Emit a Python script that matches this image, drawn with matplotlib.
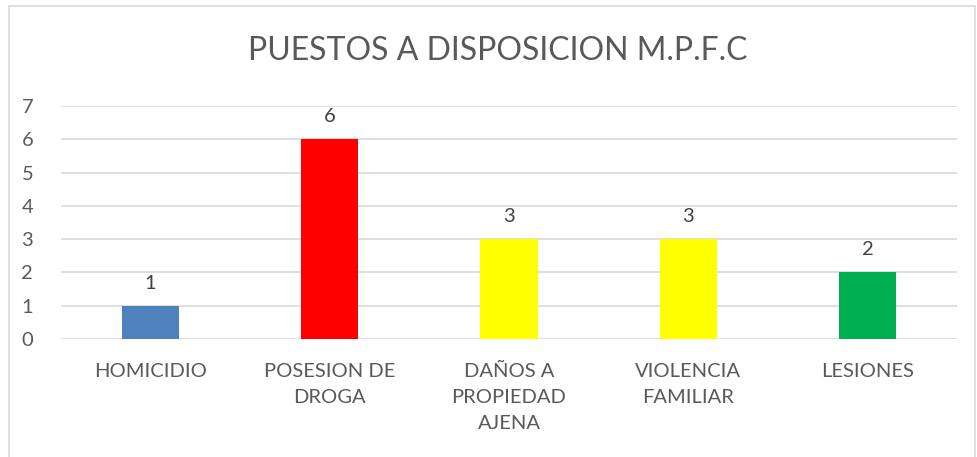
import matplotlib
matplotlib.use('Agg')
import matplotlib.pyplot as plt
from matplotlib.patches import Rectangle

categories = ['HOMICIDIO', 'POSESION DE\nDROGA', 'DAÑOS A\nPROPIEDAD\nAJENA', 'VIOLENCIA\nFAMILIAR', 'LESIONES']
values = [1, 6, 3, 3, 2]
colors = ['#4f81bd', '#ff0000', '#ffff00', '#ffff00', '#00b050']
title = 'PUESTOS A DISPOSICION M.P.F.C'

plt.rcParams['font.family'] = ['Lato', 'DejaVu Sans']
txt = '#595959'

fig = plt.figure(figsize=(9.77, 4.57), dpi=100)
ax = fig.add_axes([61/977, 118/457, 896/977, 233/457])

x = range(len(categories))
bars = ax.bar(x, values, width=0.32, color=colors, zorder=3)
for b, v in zip(bars, values):
    ax.text(b.get_x() + b.get_width()/2, v + 0.42, str(v), ha='center', va='bottom',
            fontsize=14.5, color='#404040')

ax.set_xlim(-0.5, len(categories) - 0.5)
ax.set_ylim(0, 7)
ax.set_yticks(range(0, 8))
ax.set_xticks(list(x))
ax.set_xticklabels(categories, fontsize=14.5, color=txt, linespacing=1.65, va='top')
ax.tick_params(axis='y', labelsize=14.5, labelcolor=txt, length=0, pad=20)
ax.tick_params(axis='x', length=0, pad=17)
ax.grid(axis='y', color='#d9d9d9', lw=1.2, zorder=0)
for s in ax.spines.values():
    s.set_visible(False)

fig.text(498/977, 1 - 51/457, title, ha='center', va='center', fontsize=23, color=txt)

fig.patches.append(Rectangle((9/977, -0.1), 966/977, 1.1 - 6/457, transform=fig.transFigure,
                             fill=False, edgecolor='#d9d9d9', lw=1.2))

fig.savefig('out.png', dpi=100)
